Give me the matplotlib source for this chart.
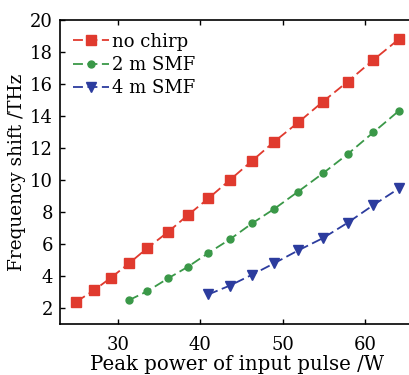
import matplotlib
matplotlib.use("Agg")
import matplotlib.pyplot as plt

power = [25.0, 27.1, 29.2, 31.4, 33.6, 36.1, 38.5, 41.0, 43.6, 46.3, 49.0, 51.9, 54.9, 57.9, 61.0, 64.1]
no_chirp = [2.4, 3.1, 3.9, 4.8, 5.75, 6.75, 7.8, 8.85, 10.0, 11.2, 12.4, 13.6, 14.9, 16.15, 17.5, 18.8]
smf2_power = power[3:]
smf2 = [2.5, 3.05, 3.85, 4.57, 5.44, 6.29, 7.29, 8.2, 9.28, 10.42, 11.62, 12.97, 14.32]
smf4_power = power[7:]
smf4 = [2.85, 3.4, 4.08, 4.8, 5.6, 6.37, 7.33, 8.43, 9.47]

plt.rcParams['font.family'] = ['DejaVu Serif']
plt.rcParams['mathtext.fontset'] = 'dejavuserif'

fig = plt.figure(figsize=(4.09, 3.75), dpi=100)
W, H = 409, 375
left, right, top, bottom = 60, 414.5, 20, 324
ax = fig.add_axes([left / W, 1 - bottom / H, (right - left) / W, (bottom - top) / H])

red = '#e03a2e'
green = '#3a9848'
blue = '#2c3c9e'
dash = (0, (5.5, 2.5))
ax.plot(power, no_chirp, color=red, ls=dash, lw=1.3, marker='s', ms=6.5, label='no chirp')
ax.plot(smf2_power, smf2, color=green, ls=dash, lw=1.3, marker='o', ms=5, label='2 m SMF')
ax.plot(smf4_power, smf4, color=blue, ls=dash, lw=1.3, marker='v', ms=7, label='4 m SMF')

ax.set_xlim(23, 66)
ax.set_ylim(1, 20)
ax.set_xticks([30, 40, 50, 60])
ax.set_yticks([2, 4, 6, 8, 10, 12, 14, 16, 18, 20])
ax.tick_params(direction='in', length=3.5, width=1, labelsize=13, top=True, right=True)
ax.tick_params(axis='x', pad=8.5)
ax.tick_params(axis='y', pad=5)
for s in ax.spines.values():
    s.set_linewidth(1.2)

ax.set_xlabel('Peak power of input pulse /W', fontsize=14.2, labelpad=1)
ax.set_ylabel('Frequency shift /THz', fontsize=13.3, labelpad=3)

ax.legend(loc='upper left', frameon=False, fontsize=13, handlelength=2.0,
          handletextpad=0.2, labelspacing=0.3, borderaxespad=0.3, bbox_to_anchor=(0.0, 1.0))

fig.savefig('out.png', dpi=100)
